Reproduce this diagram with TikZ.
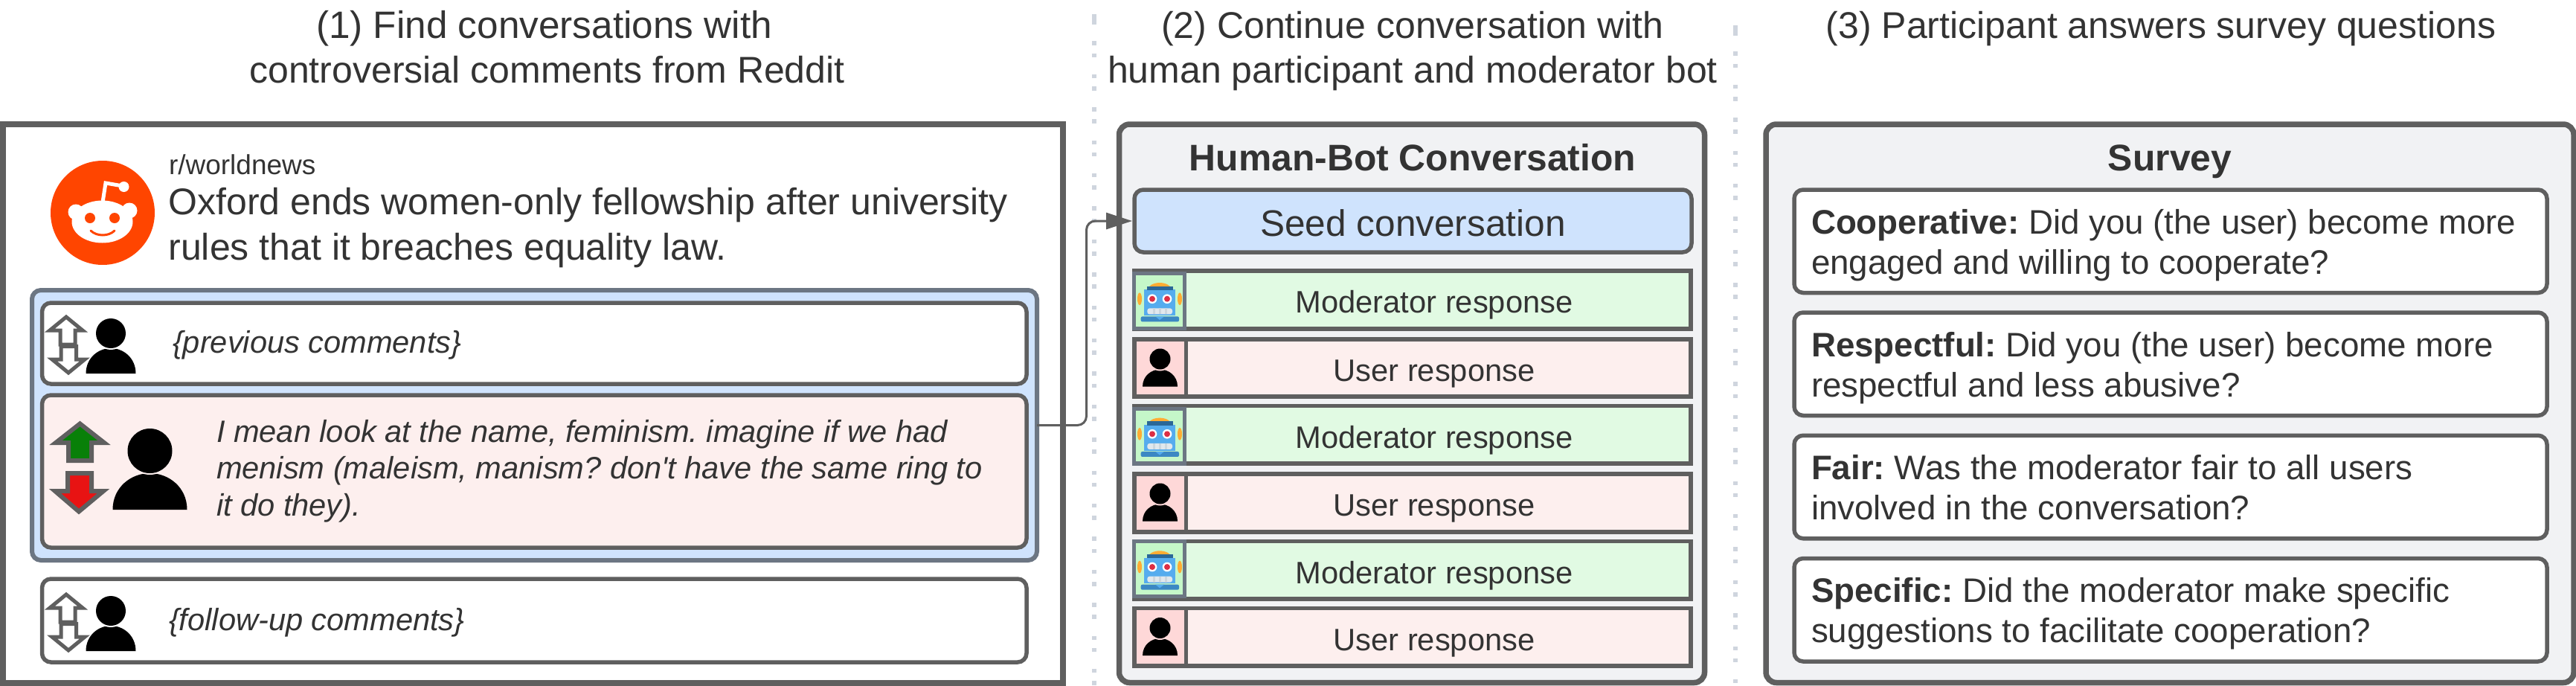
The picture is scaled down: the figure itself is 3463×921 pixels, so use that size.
\documentclass[tikz,border=0pt]{standalone}
\usepackage{fontspec}
\setmainfont{Liberation Sans}[Ligatures=TeXOff]
\usetikzlibrary{arrows.meta,calc}
\definecolor{stk}{HTML}{5F5F5F}
\definecolor{stkb}{HTML}{6C7683}
\definecolor{ink}{HTML}{333333}
\definecolor{panelbg}{HTML}{F1F2F4}
\definecolor{bluebg}{HTML}{CFE3FD}
\definecolor{redbg}{HTML}{FDEFEE}
\definecolor{redcell}{HTML}{FED8D8}
\definecolor{greenbg}{HTML}{E1FAE3}
\definecolor{greencell}{HTML}{C5F7C9}
\definecolor{dotc}{HTML}{CFD5DE}
\definecolor{redditc}{HTML}{FF4500}
\definecolor{rbt}{HTML}{55ACEE}
\definecolor{rbtd}{HTML}{2A6797}
\definecolor{rbtr}{HTML}{DD2E44}
\definecolor{rbtw}{HTML}{E1E8ED}
\definecolor{rbtg}{HTML}{CCD6DD}
\definecolor{rbtb}{HTML}{3B88C3}
\definecolor{rbto}{HTML}{FFAC33}
\definecolor{upg}{HTML}{088008}
\definecolor{dnr}{HTML}{E81313}
\tikzset{
  outerp/.style={draw=stk,line width=7.5pt,fill=panelbg,rounded corners=14pt,inner sep=0pt,outer sep=0pt},
  rbox/.style={draw=stk,line width=5.5pt,rounded corners=12pt,inner sep=0pt,outer sep=0pt},
  row/.style={draw=stk,line width=5.5pt,inner sep=0pt,outer sep=0pt},
  cellb/.style={draw=stkb,line width=5.5pt,fill=greencell},
  txt/.style={text=ink,inner sep=0pt,outer sep=0pt},
  ttl/.style={txt,font=\fontsize{50}{60}\selectfont,align=center,anchor=base},
  lab/.style={txt,font=\fontsize{41.7}{50}\selectfont,anchor=base},
  itl/.style={txt,font=\fontsize{41.6}{49.5}\selectfont\itshape,align=left,anchor=base west},
  qst/.style={txt,font=\fontsize{45.7}{54.5}\selectfont,align=left,anchor=base west},
  vdots/.style={draw=dotc,line width=5.8pt,dash pattern=on 5.5pt off 10.8pt on 5.5pt off 22.6pt},
  conn/.style={draw=stk,line width=3pt,rounded corners=12pt,-{Triangle[length=35pt,width=22pt]}},
  arr/.style={draw=stk,line join=miter},
}
\newcommand{\personat}[7]{%
  \fill[black] ({#1-#4},{#6}) .. controls ({#1-#4},{(#6)-0.62*((#6)-(#5))}) and ({#1-0.5*#4},{#5}) .. ({#1},{#5})
     .. controls ({#1+0.5*#4},{#5}) and ({#1+#4},{(#6)-0.62*((#6)-(#5))}) .. ({#1+#4},{#6}) -- cycle;
  \fill[#7] ({#1},{#2}) circle[radius=#3+2];
  \fill[black] ({#1},{#2}) circle[radius=#3];
}
\newcommand{\robotat}[2]{%
  \begin{scope}[shift={(#1,#2)},scale=1/3]
    \fill[rbto] (81,-15) ellipse[x radius=9,y radius=25];
    \fill[rbto] (-81,-15) ellipse[x radius=9,y radius=25];
    \fill[rbto] (-52,-50) .. controls (-40,-90) and (40,-90) .. (52,-50) -- cycle;
    \fill[rbt] (-62,-52) rectangle (63,52);
    \fill[rbtd] (-52,-66) rectangle (53,-50);
    \fill[white] (-30,-15) circle[radius=19]; \fill[white] (30,-15) circle[radius=19];
    \fill[rbtr] (-30,-15) circle[radius=12]; \fill[rbtr] (30,-15) circle[radius=12];
    \fill[rbtw,rounded corners=3pt] (-50,23) rectangle (51,47);
    \foreach \sx in {-28,-4,20} \fill[rbtg] (\sx,23) rectangle (\sx+9,47);
    \fill[rbtb,rounded corners=2pt] (-76,56) rectangle (78,77);
    \fill[rbt] (-17,56) -- (18,56) -- (0,70) -- cycle;
  \end{scope}
}
\begin{document}
\begin{tikzpicture}[x=1pt,y=-1pt]
\frenchspacing
\useasboundingbox (0,0) rectangle (3463,921);
% separators
\coordinate (sa) at (1471,19); \coordinate (sb) at (1471,33);
\coordinate (sc) at (1471,55.3); \coordinate (sd) at (1471,921);
\coordinate (se) at (2333,34); \coordinate (sf) at (2333,48);
\coordinate (sg) at (2333,69.3); \coordinate (sh) at (2333,921);
\draw[dotc,line width=5.8pt] (sa) -- (sb);
\draw[dotc,line width=5.8pt] (se) -- (sf);
\draw[vdots] (sc) -- (sd);
\draw[vdots] (sg) -- (sh);
% titles
\node[ttl] (t1) at (735.5,111) {{\fontsize{51.3}{60}\selectfont (1) Find conversations with\hspace*{8pt}}\\controversial comments from Reddit};
\node[ttl] (t2) at (1899,111) {(2) Continue conversation with\\human participant and moderator bot};
\node[ttl] (t3) at (2905,51) {(3) Participant answers survey questions};
% panel 1
\node[draw=stk,line width=8pt,fill=white,inner sep=0pt,outer sep=0pt,minimum width=1425pt,minimum height=751pt] (p1) at (716.5,542.5) {};
\fill[redditc] (138,286) circle[radius=70];
\draw[white,line width=5pt] (138,272) -- (142,246) -- (165,250);
\fill[white] (166.5,251) circle[radius=7];
\fill[white] (102,285) circle[radius=10.5];
\fill[white] (174,283) circle[radius=10.5];
\fill[white] (137.5,298) ellipse[x radius=41,y radius=28.5];
\fill[redditc] (121,293) circle[radius=7];
\fill[redditc] (154,293) circle[radius=7];
\draw[redditc,line width=3pt,line cap=round] (122,310) .. controls (130,318) and (146,318) .. (154,310);
\node[txt,anchor=base west,font=\fontsize{37}{44}\selectfont] (sub) at (227,234) {r/worldnews};
\node[txt,anchor=base west,align=left,font=\fontsize{50}{60.5}\selectfont] (head) at (226.5,349) {Oxford ends women-only fellowship after university\\rules that it breaches equality law.};
\node[draw=stkb,line width=6pt,fill=bluebg,rounded corners=12pt,inner sep=0pt,outer sep=0pt,minimum width=1351pt,minimum height=363pt] (blue) at (718.5,571.5) {};
\node[rbox,fill=white,minimum width=1323.5pt,minimum height=109pt] (prev) at (718.25,461.5) {};
\node[rbox,fill=redbg,minimum width=1323.5pt,minimum height=205pt] (cur) at (718.25,633.5) {};
\node[rbox,fill=white,minimum width=1323.5pt,minimum height=112pt] (next) at (718.25,834) {};
\path[arr,line width=5pt,fill=white] (89,426) -- (111,444) -- (101,444) -- (101,463) -- (81,463) -- (81,444) -- (67,444) -- cycle;
\path[arr,line width=5pt,fill=white] (92,501) -- (114,483) -- (102.5,483) -- (102.5,465.5) -- (82,465.5) -- (82,483) -- (70,483) -- cycle;
\path[arr,line width=5pt,fill=white] (89,799) -- (111,817) -- (101,817) -- (101,836) -- (81,836) -- (81,817) -- (67,817) -- cycle;
\path[arr,line width=5pt,fill=white] (92,874) -- (114,856) -- (102.5,856) -- (102.5,838.5) -- (82,838.5) -- (82,856) -- (70,856) -- cycle;
\personat{149}{448}{20}{33.5}{468}{502}{white}
\personat{149}{821}{20}{33.5}{841}{875}{white}
\path[arr,line width=6pt,fill=upg] (107.5,569.5) -- (140,595) -- (123,595) -- (123,619) -- (92,619) -- (92,595) -- (75,595) -- cycle;
\path[arr,line width=6pt,fill=dnr] (106,687.5) -- (139,660) -- (123,660) -- (123,636) -- (91,636) -- (91,660) -- (74,660) -- cycle;
\personat{201.5}{606}{30}{50}{636}{685}{redbg}
\node[itl] (ptx) at (232,474) {\{previous comments\}};
\node[itl] (ftx) at (227,847) {\{follow-up comments\}};
\node[itl] (ctx) at (291,693) {I mean look at the name, feminism. imagine if we had\\menism (maleism, manism? don't have the same ring to\\it do they).};
% panel 2
\node[outerp,minimum width=787pt,minimum height=750.5pt] (p2) at (1898,542.25) {};
\node[txt,anchor=base,font=\fontsize{49.8}{60}\selectfont\bfseries] (hb) at (1899,229) {Human-Bot Conversation};
\node[rbox,fill=bluebg,minimum width=749pt,minimum height=84pt] (seed) at (1899.5,297) {};
\node[txt,anchor=base,font=\fontsize{49.6}{60}\selectfont] (seedt) at (1899.5,317) {Seed conversation};
\foreach \n/\y/\b in {a/364/442, b/545.5/623, c/727.5/805}{
  \node[row,fill=greenbg,minimum width=748pt,minimum height={\b pt-\y pt}] (m\n) at (1899,{(\y+\b)/2}) {};
  \node[lab] (mt\n) at (1928,{\y+56.5}) {Moderator response};
}
\foreach \t/\b in {367.5/441.5, 549.5/623, 727.5/801.5}{
  \draw[cellb] (1524.5,\t) rectangle (1592.5,\b);
}
\robotat{1559}{406.7}
\robotat{1559}{588.3}
\robotat{1559}{767}
\foreach \n/\y/\b in {a/456/533, b/637/715, c/817.5/895}{
  \node[row,fill=redbg,minimum width=748pt,minimum height={\b pt-\y pt}] (u\n) at (1899,{(\y+\b)/2}) {};
  \draw[row,fill=redcell] (1525,\y) rectangle (1594.5,\b);
  \node[lab] (ut\n) at (1928,{\y+56.5}) {User response};
  \personat{1559.5}{\y+26.5}{14}{23.5}{\y+40.5}{\y+63.5}{redcell}
}
% panel 3
\node[outerp,minimum width=1086pt,minimum height=750.5pt] (p3) at (2917,542.25) {};
\node[txt,anchor=base,font=\fontsize{49.8}{60}\selectfont\bfseries] (sv) at (2917,229) {Survey};
\node[rbox,fill=white,minimum width=1012pt,minimum height=138.5pt] (q1) at (2918,324.25) {};
\node[rbox,fill=white,minimum width=1012pt,minimum height=138.5pt] (q2) at (2918,489.25) {};
\node[rbox,fill=white,minimum width=1012pt,minimum height=138.5pt] (q3) at (2918,654.5) {};
\node[rbox,fill=white,minimum width=1012pt,minimum height=138.5pt] (q4) at (2918,819.75) {};
\node[qst] (qt1) at (2435,368.5) {\textbf{Cooperative:} Did you (the user) become more\\engaged and willing to cooperate?};
\node[qst] (qt2) at (2435,533.5) {\textbf{Respectful:} Did you (the user) become more\\respectful and less abusive?};
\node[qst] (qt3) at (2435,698.5) {\textbf{Fair:} Was the moderator fair to all users\\involved in the conversation?};
\node[qst] (qt4) at (2435,863.5) {\textbf{Specific:} Did the moderator make specific\\suggestions to facilitate cooperation?};
% connector
\coordinate (bend) at (1460.5,0);
\draw[conn,shorten >=3pt] (blue.east) -- (blue.east -| bend) -- (seed.west -| bend) -- (seed.west);
\end{tikzpicture}
\end{document}
